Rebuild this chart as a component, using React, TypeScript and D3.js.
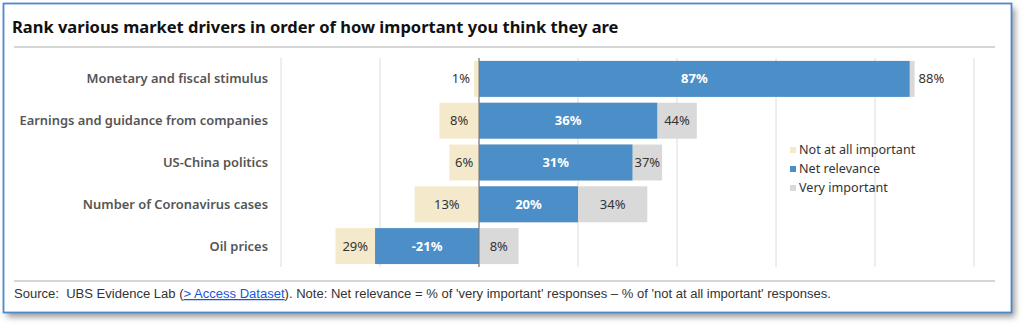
import React from "react";
import * as d3 from "d3";

const categories = [
  "Monetary and fiscal stimulus",
  "Earnings and guidance from companies",
  "US-China politics",
  "Number of Coronavirus cases",
  "Oil prices",
];
const notImportant = [1, 8, 6, 13, 29];
const netRelevance = [87, 36, 31, 20, -21];
const veryImportant = [88, 44, 37, 34, 8];
const ticks = [-40, -20, 0, 20, 40, 60, 80, 100];
const legendLabels = ["Not at all important", "Net relevance", "Very important"];

const W = 1024;
const H = 326;
const BLUE = "#4b8ec8";
const BEIGE = "#f4eacb";
const GRAY = "#d9d9d9";
const FONT = "'Noto Sans', 'Open Sans', sans-serif";

export default function App() {
  const x = d3.scaleLinear().domain([-40, 100]).range([281, 974]);
  const y = d3
    .scaleBand<string>()
    .domain(categories)
    .range([58, 267])
    .paddingInner(0.14)
    .paddingOuter(0.07);
  const bw = y.bandwidth();
  const x0 = x(0);
  const legendColors = [BEIGE, BLUE, GRAY];

  return (
    <svg
      width={W}
      height={H}
      style={{ position: "absolute", left: 0, top: 0, background: "#fff" }}
    >
      <defs>
        <filter id="sh" x="-5%" y="-5%" width="110%" height="120%">
          <feGaussianBlur stdDeviation="3" />
        </filter>
      </defs>
      <rect x={0} y={0} width={W} height={H} fill="#fff" />
      <rect x={7} y={8} width={1008} height={309} fill="#9a9a9a" filter="url(#sh)" />
      <rect x={3.5} y={3.5} width={1008} height={309} fill="#fff" stroke="#4f88cc" strokeWidth={1.8} />

      <text x={12} y={33} fontFamily={FONT} fontWeight={700} fontSize={16.5} fill="#111">
        Rank various market drivers in order of how important you think they are
      </text>
      <line x1={14} x2={995} y1={47} y2={47} stroke="#d6d6d6" strokeWidth={2} />

      {ticks.map((t) => (
        <line
          key={t}
          x1={x(t)}
          x2={x(t)}
          y1={58}
          y2={267}
          stroke={t === 0 ? "#bbb" : "#dcdcdc"}
          strokeWidth={1}
        />
      ))}

      {categories.map((c, i) => {
        const yy = y(c)!;
        const cy = yy + bw / 2;
        const ni = notImportant[i];
        const nr = netRelevance[i];
        const vi = veryImportant[i];
        const beigeVis = x0 - x(-ni) - (nr < 0 ? x0 - x(nr) : 0);
        const grayVis = x(vi) - x0 - (nr > 0 ? x(nr) - x0 : 0);
        const grayLeft = nr > 0 ? x(nr) : x0;
        return (
          <g key={c}>
            <text
              x={268}
              y={cy}
              dy="0.35em"
              textAnchor="end"
              fontFamily={FONT}
              fontWeight={600}
              fontSize={12.9}
              fill="#555"
            >
              {c}
            </text>
            <rect x={x(-ni)} y={yy} width={x0 - x(-ni)} height={bw} fill={BEIGE} />
            <rect x={x0} y={yy} width={x(vi) - x0} height={bw} fill={GRAY} />
            <rect
              x={Math.min(x0, x(nr))}
              y={yy}
              width={Math.abs(x(nr) - x0)}
              height={bw}
              fill={BLUE}
            />
            <text
              x={beigeVis > 22 ? x(-ni) + beigeVis / 2 : x(-ni) - 4}
              y={cy}
              dy="0.35em"
              textAnchor={beigeVis > 22 ? "middle" : "end"}
              fontFamily={FONT}
              fontSize={13}
              fill="#333"
            >
              {ni}%
            </text>
            <text
              x={(x0 + x(nr)) / 2}
              y={cy}
              dy="0.35em"
              textAnchor="middle"
              fontFamily={FONT}
              fontWeight={700}
              fontSize={13}
              fill="#fff"
            >
              {nr}%
            </text>
            <text
              x={grayVis > 22 ? grayLeft + grayVis / 2 : x(vi) + 4}
              y={cy}
              dy="0.35em"
              textAnchor={grayVis > 22 ? "middle" : "start"}
              fontFamily={FONT}
              fontSize={13}
              fill="#333"
            >
              {vi}%
            </text>
          </g>
        );
      })}

      <line x1={x0} x2={x0} y1={58} y2={267} stroke="#777" strokeWidth={1} />

      {legendLabels.map((l, i) => (
        <g key={l} transform={`translate(790, ${150 + i * 19})`}>
          <rect x={0} y={-3} width={6} height={6} fill={legendColors[i]} />
          <text x={9} y={0} dy="0.35em" fontFamily={FONT} fontSize={12.6} fill="#333">
            {l}
          </text>
        </g>
      ))}

      <line x1={14} x2={995} y1={281} y2={281} stroke="#d6d6d6" strokeWidth={2} />
      <text
        x={14}
        y={298}
        fontFamily="'Liberation Sans', sans-serif"
        fontSize={12.5}
        fill="#333"
        textLength={817}
        lengthAdjust="spacingAndGlyphs"
        style={{ whiteSpace: "pre" }}
      >
        <tspan>{"Source:\u00a0\u00a0UBS Evidence Lab ("}</tspan>
        <tspan fill="#1a55d8" textDecoration="underline">&gt; Access Dataset</tspan>
        <tspan>). Note: Net relevance = % of 'very important' responses – % of 'not at all important' responses.</tspan>
      </text>
    </svg>
  );
}
